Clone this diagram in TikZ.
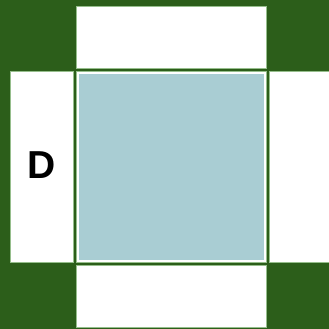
\documentclass[tikz,border=0pt]{standalone}
\usepackage{fontspec}
\setmainfont{Liberation Sans}
\definecolor{dgreen}{RGB}{44,94,26}
\definecolor{lblue}{RGB}{169,205,211}
\definecolor{lgreen}{RGB}{150,190,140}
\begin{document}
\begin{tikzpicture}[x=1pt,y=-1pt,
  cell/.style={fill=white,draw=lgreen,line width=0.8pt}]
\useasboundingbox (0,0) rectangle (329,329);
\fill[dgreen] (0,0) rectangle (329,329);
\draw[cell] (76,6) rectangle (266,68);
\draw[cell] (10,71) rectangle (73,262);
\draw[cell] (76,71) rectangle (266,262);
\fill[lblue] (78.5,73.5) rectangle (263.5,259.5);
\draw[cell] (269,71) rectangle (335,262);
\draw[cell] (76,265) rectangle (266,327);
\node[font=\bfseries\fontsize{39}{39}\selectfont,inner sep=0] (d) at (42,165) {D};
\end{tikzpicture}
\end{document}
